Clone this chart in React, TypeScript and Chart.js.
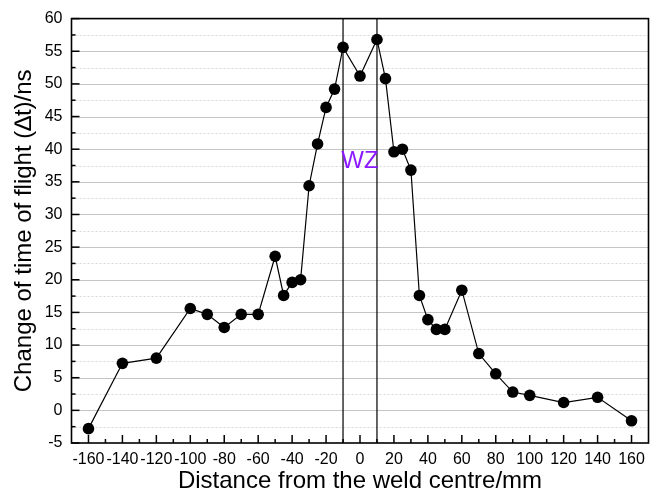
import React, { useEffect, useRef } from "react";
import { Chart, registerables } from "chart.js";

Chart.register(...registerables);

// Measured change of time of flight across the weld
const DISTANCE_MM = [
  -160, -140, -120, -100, -90, -80, -70, -60, -50, -45, -40, -35, -30, -25, -20, -15, -10,
  0, 10, 15, 20, 25, 30, 35, 40, 45, 50, 60, 70, 80, 90, 100, 120, 140, 160,
];
const DELTA_T_NS = [
  -2.8, 7.2, 8.0, 15.6, 14.7, 12.7, 14.7, 14.7, 23.6, 17.6, 19.6, 20.0, 34.4, 40.8, 46.4, 49.2, 55.6,
  51.2, 56.8, 50.8, 39.6, 40.0, 36.8, 17.6, 13.9, 12.4, 12.4, 18.4, 8.7, 5.6, 2.8, 2.3, 1.2, 2.0, -1.6,
];

// Axis ranges and ticks
const X_RANGE = [-170, 170];
const X_TICKS = [-160, -140, -120, -100, -80, -60, -40, -20, 0, 20, 40, 60, 80, 100, 120, 140, 160];
const X_MINOR_TICKS = [-150, -130, -110, -90, -70, -50, -30, -10, 10, 30, 50, 70, 90, 110, 130, 150];
const Y_RANGE = [-5, 60];
const Y_TICKS = [-5, 0, 5, 10, 15, 20, 25, 30, 35, 40, 45, 50, 55, 60];
const Y_MINOR_TICKS = [-2.5, 2.5, 7.5, 12.5, 17.5, 22.5, 27.5, 32.5, 37.5, 42.5, 47.5, 52.5, 57.5];

// Weld-zone boundaries and label
const WZ_BOUNDS = [-10, 10];
const WZ_LABEL = { text: "WZ", x: 0, y: 38.2 };

const FONT = "'Liberation Sans', Arial, sans-serif";

const framePlugin = {
  id: "originFrame",
  beforeDatasetsDraw(chart: any) {
    const { ctx, chartArea: a, scales } = chart;
    const xs = scales.x;
    const ys = scales.y;
    ctx.save();
    // horizontal grid: solid at majors, dotted at minors
    ctx.lineWidth = 1;
    for (const v of Y_TICKS) {
      if (v === Y_RANGE[0] || v === Y_RANGE[1]) continue;
      const y = Math.round(ys.getPixelForValue(v)) + 0.5;
      ctx.strokeStyle = "#c4c4c4";
      ctx.setLineDash([]);
      ctx.beginPath();
      ctx.moveTo(a.left, y);
      ctx.lineTo(a.right, y);
      ctx.stroke();
    }
    for (const v of Y_MINOR_TICKS) {
      const y = Math.round(ys.getPixelForValue(v)) + 0.5;
      ctx.strokeStyle = "#d8d8d8";
      ctx.setLineDash([2, 2]);
      ctx.beginPath();
      ctx.moveTo(a.left, y);
      ctx.lineTo(a.right, y);
      ctx.stroke();
    }
    ctx.setLineDash([]);

    // weld-zone boundary lines
    ctx.strokeStyle = "#000";
    ctx.lineWidth = 1.2;
    for (const v of WZ_BOUNDS) {
      const x = xs.getPixelForValue(v);
      ctx.beginPath();
      ctx.moveTo(x, a.top);
      ctx.lineTo(x, a.bottom);
      ctx.stroke();
    }

    // inward tick marks
    ctx.lineWidth = 1.5;
    const tick = (x1: number, y1: number, x2: number, y2: number) => {
      ctx.beginPath();
      ctx.moveTo(x1, y1);
      ctx.lineTo(x2, y2);
      ctx.stroke();
    };
    for (const v of X_TICKS) {
      const x = xs.getPixelForValue(v);
      tick(x, a.bottom, x, a.bottom - 8);
    }
    for (const v of X_MINOR_TICKS) {
      const x = xs.getPixelForValue(v);
      tick(x, a.bottom, x, a.bottom - 4);
    }
    for (const v of Y_TICKS) {
      const y = ys.getPixelForValue(v);
      tick(a.left, y, a.left + 8, y);
    }
    for (const v of Y_MINOR_TICKS) {
      const y = ys.getPixelForValue(v);
      tick(a.left, y, a.left + 4, y);
    }

    // box frame
    ctx.lineWidth = 1.6;
    ctx.strokeRect(a.left, a.top, a.right - a.left, a.bottom - a.top);
    ctx.restore();
  },
  afterDatasetsDraw(chart: any) {
    const { ctx, scales } = chart;
    ctx.save();
    ctx.fillStyle = "#8c1aff";
    ctx.font = `24px ${FONT}`;
    ctx.textAlign = "center";
    ctx.textBaseline = "middle";
    ctx.fillText(WZ_LABEL.text, scales.x.getPixelForValue(WZ_LABEL.x), scales.y.getPixelForValue(WZ_LABEL.y));
    ctx.restore();
  },
};

export default function App() {
  const canvasRef = useRef<HTMLCanvasElement | null>(null);

  useEffect(() => {
    document.body.style.margin = "0";
    const canvas = canvasRef.current;
    if (!canvas) return;
    const chart = new Chart(canvas, {
      type: "scatter",
      data: {
        datasets: [
          {
            data: DISTANCE_MM.map((x, i) => ({ x, y: DELTA_T_NS[i] })),
            showLine: true,
            borderColor: "#000",
            borderWidth: 1.2,
            pointRadius: 5.8,
            pointHoverRadius: 5.8,
            pointBackgroundColor: "#000",
            pointBorderColor: "#000",
            pointBorderWidth: 0,
            tension: 0,
          },
        ],
      },
      options: {
        responsive: false,
        animation: false,
        layout: { padding: { top: 14.5, right: 7.5, left: 0, bottom: 0 } },
        plugins: {
          legend: { display: false },
          tooltip: { enabled: false },
        },
        scales: {
          x: {
            type: "linear",
            min: X_RANGE[0],
            max: X_RANGE[1],
            afterBuildTicks: (scale: any) => {
              scale.ticks = X_TICKS.map((value) => ({ value }));
            },
            afterFit: (scale: any) => {
              scale.height = 54;
            },
            grid: { display: false, drawTicks: false },
            border: { display: false },
            ticks: {
              autoSkip: false,
              maxRotation: 0,
              padding: 7,
              color: "#000",
              font: { family: FONT, size: 16 },
            },
            title: {
              display: true,
              text: "Distance from the weld centre/mm",
              color: "#000",
              font: { family: FONT, size: 24 },
              padding: { top: 0, bottom: 1.5 },
            },
          },
          y: {
            type: "linear",
            min: Y_RANGE[0],
            max: Y_RANGE[1],
            afterBuildTicks: (scale: any) => {
              scale.ticks = Y_TICKS.map((value) => ({ value }));
            },
            afterFit: (scale: any) => {
              scale.width = 71.5;
            },
            grid: { display: false, drawTicks: false },
            border: { display: false },
            ticks: {
              autoSkip: false,
              padding: 9,
              color: "#000",
              font: { family: FONT, size: 16 },
            },
            title: {
              display: true,
              text: "Change of time of flight (\u2206t)/ns",
              color: "#000",
              font: { family: FONT, size: 24 },
              padding: { top: 9.5, bottom: 0 },
            },
          },
        },
      },
      plugins: [framePlugin],
    });
    return () => chart.destroy();
  }, []);

  return <canvas ref={canvasRef} width={656} height={497} style={{ display: "block" }} />;
}
